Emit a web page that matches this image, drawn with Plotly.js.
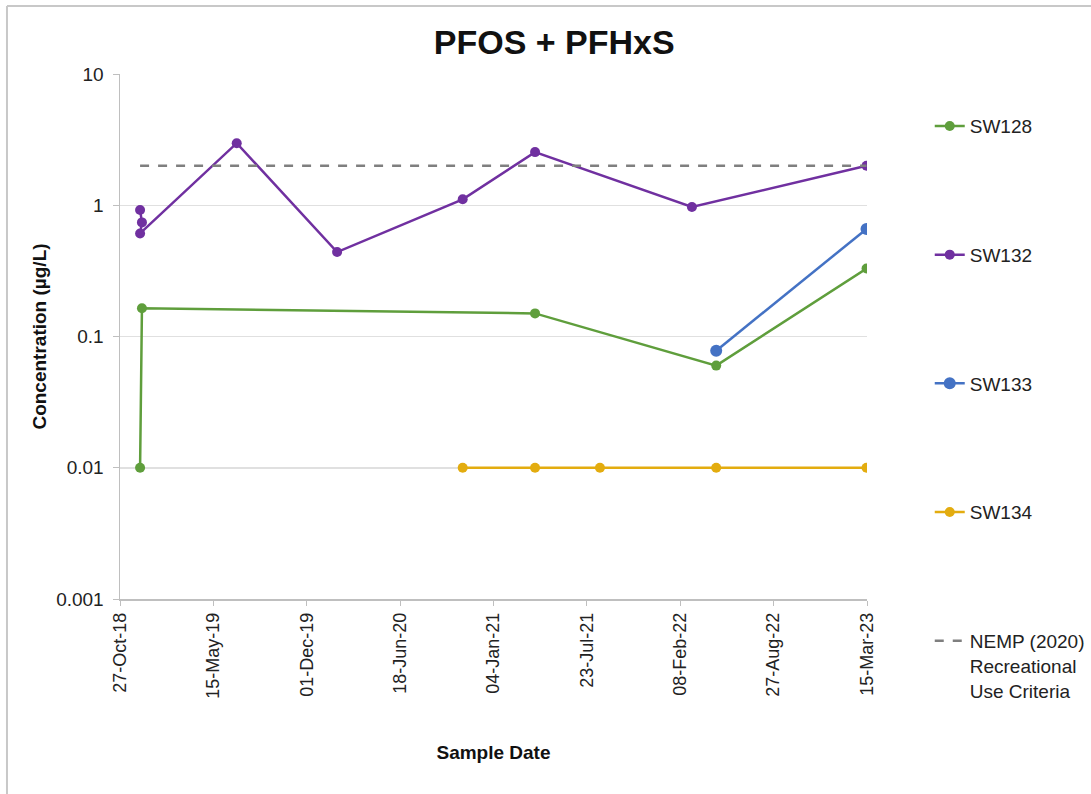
<!DOCTYPE html>
<html>
<head>
<meta charset="utf-8">
<script src="https://cdn.plot.ly/plotly-3.0.1.min.js"></script>
<style>html,body{margin:0;padding:0;background:#fff;}#chart{width:1091px;height:794px;}</style>
</head>
<body>
<div id="chart"></div>
<script>
// Data
const sw128Dates = ['2018-12-09', '2018-12-13', '2021-04-03', '2022-04-26', '2023-03-14'];
const sw128Values = [0.01, 0.164, 0.15, 0.06, 0.33];

const sw132Dates = ['2018-12-09', '2018-12-13', '2018-12-09', '2019-07-04', '2020-02-04', '2020-10-30', '2021-04-03', '2022-03-05', '2023-03-14'];
const sw132Values = [0.92, 0.74, 0.61, 2.97, 0.44, 1.11, 2.54, 0.97, 2.0];

const sw133Dates = ['2022-04-26', '2023-03-14'];
const sw133Values = [0.078, 0.66];

const sw134Dates = ['2020-10-30', '2021-04-03', '2021-08-20', '2022-04-26', '2023-03-14'];
const sw134Values = [0.01, 0.01, 0.01, 0.01, 0.01];

const nempDates = ['2018-12-09', '2023-03-14'];
const nempValues = [2.0, 2.0];

const yTickVals = [0.001, 0.01, 0.1, 1, 10];
const yTickText = ['0.001', '0.01', '0.1', '1', '10'];

const FONT = 'Liberation Sans, Arial, sans-serif';

const traces = [
  {x: sw128Dates, y: sw128Values, name: 'SW128', mode: 'lines+markers', legendgroup: 'a',
   line: {color: '#5f9e3c', width: 2.5}, marker: {color: '#5f9e3c', size: 10}},
  {x: sw132Dates, y: sw132Values, name: 'SW132', mode: 'lines+markers', legendgroup: 'b',
   line: {color: '#7030a0', width: 2.5}, marker: {color: '#7030a0', size: 10}},
  {x: sw133Dates, y: sw133Values, name: 'SW133', mode: 'lines+markers', legendgroup: 'c',
   line: {color: '#4472c4', width: 2.5}, marker: {color: '#4472c4', size: 12}},
  {x: sw134Dates, y: sw134Values, name: 'SW134', mode: 'lines+markers', legendgroup: 'd',
   line: {color: '#e3ac0f', width: 2.5}, marker: {color: '#e3ac0f', size: 10}},
  {x: nempDates, y: nempValues, name: 'NEMP (2020)<br>Recreational<br>Use Criteria', mode: 'lines', legendgroup: 'e',
   line: {color: '#7f7f7f', width: 2.5, dash: 'dash'}}
];

const layout = {
  width: 1091, height: 794,
  paper_bgcolor: '#fff', plot_bgcolor: '#fff',
  margin: {l: 120, r: 224, t: 74, b: 195, autoexpand: false},
  font: {family: FONT, color: '#222', size: 18},
  title: {text: '<b>PFOS + PFHxS</b>', font: {family: FONT, size: 34, color: '#111'},
          x: 0.508, xanchor: 'center', y: 0.947, yanchor: 'middle'},
  showlegend: true,
  legend: {x: 1.084, xanchor: 'left', y: 0.937, yanchor: 'top', traceorder: 'grouped', valign: 'top',
           maxheight: 760,
           tracegroupgap: 101, font: {family: FONT, size: 19, color: '#222'}, bgcolor: 'rgba(0,0,0,0)'},
  xaxis: {
    type: 'date',
    range: ['2018-10-27', '2023-03-15'],
    tick0: '2018-10-27', dtick: 200 * 86400000,
    tickformat: '%d-%b-%y', tickangle: -90,
    showgrid: false, showline: true, linecolor: '#bfbfbf', linewidth: 1.5,
    ticks: 'outside', ticklen: 5, tickcolor: '#bfbfbf',
    tickfont: {family: FONT, size: 18, color: '#222'},
    title: {text: '<b>Sample Date</b>', font: {family: FONT, size: 19, color: '#111'}, standoff: 48},
    zeroline: false
  },
  yaxis: {
    type: 'log', range: [-3, 1],
    tickvals: yTickVals, ticktext: yTickText,
    showgrid: true, gridcolor: '#e0e0e0', gridwidth: 1.5,
    showline: true, linecolor: '#bfbfbf', linewidth: 1.5,
    ticks: 'outside', ticklen: 6, tickcolor: '#bfbfbf', ticklabelstandoff: 5,
    tickfont: {family: FONT, size: 19, color: '#222'},
    title: {text: '<b>Concentration (µg/L)</b>', font: {family: FONT, size: 19, color: '#111'}, standoff: 4},
    zeroline: false
  },
  shapes: [
    {type: 'line', xref: 'paper', yref: 'paper', x0: -0.1513, x1: 1.35, y0: 1.1295, y1: 1.1295,
     line: {color: '#c8c8c8', width: 2}},
    {type: 'line', xref: 'paper', yref: 'paper', x0: -0.1513, x1: -0.1513, y0: 1.1295, y1: -0.4,
     line: {color: '#c8c8c8', width: 2}}
  ]
};

Plotly.newPlot('chart', traces, layout, {displayModeBar: false, staticPlot: true});
</script>
</body>
</html>
